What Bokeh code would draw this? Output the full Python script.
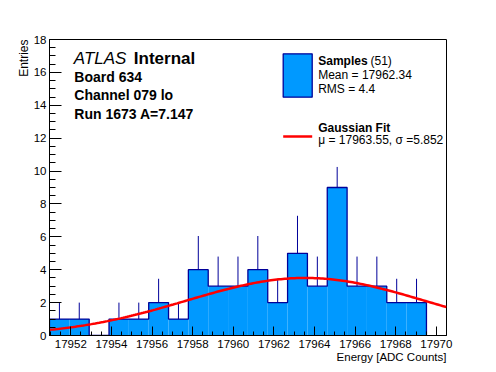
import math
from bokeh.plotting import figure
from bokeh.models import (Range1d, SingleIntervalTicker, Label, BoxAnnotation,
                          ColumnDataSource, Title)
from bokeh.embed import file_html
from bokeh.resources import INLINE

# ---------------- data ----------------
bin_start = 17950.95
bin_width = 0.977
counts = [1, 1, 0, 1, 1, 2, 1, 4, 3, 3, 4, 2, 5, 3, 9, 3, 3, 2, 2]
errors = [1.0, 1.0, 0.0, 1.0, 1.0, 1.45, 1.0, 2.05, 1.8, 1.8, 2.05, 1.45,
          2.28, 1.8, 1.25, 1.8, 1.8, 1.45, 1.45]
fit_mu = 17963.55
fit_sigma = 5.852
fit_amp = 3.5
x_lo, x_hi = 17950.95, 17970.5
y_lo, y_hi = 0, 18
n_samples = 51
mean_val = "17962.34"
rms_val = "4.4"
x_title = "Energy [ADC Counts]"
y_title = "Entries"

FONT = "Liberation Sans"
FILL = "#0099ff"
NAVY = "#000099"

p = figure(width=496, height=372, output_backend="svg", toolbar_location=None,
           x_range=Range1d(x_lo, x_hi), y_range=Range1d(y_lo, y_hi),
           min_border_left=49, min_border_right=50, min_border_top=39,
           min_border_bottom=37)
p.background_fill_color = "white"
p.border_fill_color = "white"
p.outline_line_color = "black"
p.outline_line_width = 1
p.xgrid.visible = False
p.ygrid.visible = False

# histogram
lefts = [bin_start + i * bin_width for i in range(len(counts))]
rights = [l + bin_width for l in lefts]
src = ColumnDataSource(dict(left=lefts, right=rights, top=counts,
                            bottom=[0] * len(counts)))
p.quad(left="left", right="right", top="top", bottom="bottom", source=src,
       fill_color=FILL, line_color=None)

# error bars (upper part visible)
ex, ey0, ey1 = [], [], []
for l, c, e in zip(lefts, counts, errors):
    if c > 0:
        ex.append(l + bin_width / 2)
        ey0.append(c)
        ey1.append(c + e)
p.segment(x0=ex, y0=ey0, x1=ex, y1=ey1, line_color=NAVY, line_width=1)

# step outline
sx, sy = [lefts[0]], [0]
for l, r, c in zip(lefts, rights, counts):
    sx += [l, r]
    sy += [c, c]
sx.append(rights[-1])
sy.append(0)
p.line(sx, sy, line_color=NAVY, line_width=1.3)

# gaussian fit curve
n_pts = 200
fx = [x_lo + (x_hi - x_lo) * i / (n_pts - 1) for i in range(n_pts)]
fy = [fit_amp * math.exp(-0.5 * ((x - fit_mu) / fit_sigma) ** 2) for x in fx]
p.line(fx, fy, line_color="#ff0000", line_width=2.5)

# axes
xa, ya = p.xaxis[0], p.yaxis[0]
for ax in (xa, ya):
    ax.axis_line_color = "black"
    ax.major_tick_line_color = "black"
    ax.minor_tick_line_color = "black"
    ax.major_tick_out = 0
    ax.minor_tick_out = 0
    ax.major_label_text_font = FONT
    ax.major_label_text_font_size = "11.5px"
    ax.major_label_text_color = "black"
    ax.major_label_standoff = 3
xa.major_label_standoff = 4
xa.ticker = SingleIntervalTicker(interval=2, num_minor_ticks=4)
ya.ticker = SingleIntervalTicker(interval=2, num_minor_ticks=4)
xa.major_tick_in = 9
xa.minor_tick_in = 4
ya.major_tick_in = 12
ya.minor_tick_in = 6

# axis titles, aligned to the far end of each axis
p.add_layout(Title(text=x_title, align="right", vertical_align="top",
                   text_font=FONT, text_font_size="11.5px",
                   text_font_style="normal", text_color="black",
                   text_line_height=0.9, standoff=0, offset=0), "below")
p.add_layout(Title(text=y_title, align="right", text_font=FONT,
                   text_font_size="12px", text_font_style="normal",
                   text_color="black", standoff=0, offset=0), "left")

L = 49.0
B = 335.0
DY = 5.0  # baseline correction


def lab(text, px, py, size="12px", style="normal", align="left", angle=0):
    p.add_layout(Label(x=px - L, y=B - (py - DY), x_units="screen",
                       y_units="screen", text=text, text_font=FONT,
                       text_font_size=size, text_font_style=style,
                       text_align=align, text_baseline="alphabetic",
                       text_color="black", angle=angle))


# ATLAS block
lab("ATLAS", 73.3, 62.7, size="17px", style="italic")
lab("Internal", 133.3, 62.7, size="17px", style="bold")
lab("Board 634", 73.8, 81.2, size="14px", style="bold")
lab("Channel 079 lo", 73.8, 99.5, size="14px", style="bold")
lab("Run 1673 A=7.147", 73.8, 118.2, size="14px", style="bold")

# legend
p.add_layout(BoxAnnotation(left=282.7 - L, right=311.7 - L, top=B - 53.3,
                           bottom=B - 96.7, left_units="screen",
                           right_units="screen", top_units="screen",
                           bottom_units="screen", fill_color=FILL,
                           fill_alpha=1, line_color=NAVY, line_width=1.3,
                           line_alpha=1))
p.add_layout(BoxAnnotation(left=282.7 - L, right=311.7 - L, top=B - 134.8,
                           bottom=B - 137.2, left_units="screen",
                           right_units="screen", top_units="screen",
                           bottom_units="screen", fill_color="#ff0000",
                           fill_alpha=1, line_color=None))
lab("Samples", 317.7, 65.7, style="bold")
lab("(%d)" % n_samples, 370.0, 65.7)
lab("Mean = " + mean_val, 317.7, 79.3)
lab("RMS = " + rms_val, 317.7, 93.3)
lab("Gaussian Fit", 317.7, 132.3, style="bold")
lab("\u03bc = %.2f, \u03c3 =%.3f" % (fit_mu, fit_sigma), 317.7, 144.5)

open("out.html", "w").write(file_html(p, INLINE))
